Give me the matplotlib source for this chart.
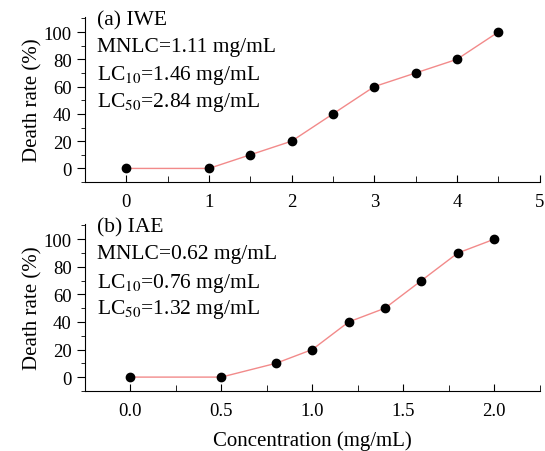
import matplotlib
matplotlib.use("Agg")
import matplotlib.pyplot as plt
from matplotlib.ticker import MultipleLocator

plt.rcParams['font.family'] = ['Liberation Serif', 'DejaVu Serif']
plt.rcParams['mathtext.fontset'] = 'stix'

# (a) IWE
iwe_conc = [0, 1, 1.5, 2, 2.5, 3, 3.5, 4, 4.5]
iwe_death = [0, 0, 10, 20, 40, 60, 70, 80, 100]
iwe_text = ["(a) IWE", "MNLC=1.11 mg/mL", "LC$_{10}$=1.46 mg/mL", "LC$_{50}$=2.84 mg/mL"]

# (b) IAE
iae_conc = [0, 0.5, 0.8, 1.0, 1.2, 1.4, 1.6, 1.8, 2.0]
iae_death = [0, 0, 10, 20, 40, 50, 70, 90, 100]
iae_text = ["(b) IAE", "MNLC=0.62 mg/mL", "LC$_{10}$=0.76 mg/mL", "LC$_{50}$=1.32 mg/mL"]

fig = plt.figure(figsize=(5.45, 4.52), dpi=100)
ax1 = fig.add_axes([0.156, 0.595, 0.834, 0.365])
ax2 = fig.add_axes([0.156, 0.133, 0.834, 0.369])


def style(ax, x, y, labels, xlim, xmajor, xminor, fmt):
    ax.plot(x, y, '-', color='#f28a8a', linewidth=1, zorder=1)
    ax.plot(x, y, 'o', color='black', markersize=6, zorder=2)
    ax.set_xlim(*xlim)
    ax.set_ylim(-10, 111)
    ax.spines['top'].set_visible(False)
    ax.spines['right'].set_visible(False)
    ax.xaxis.set_major_locator(MultipleLocator(xmajor))
    ax.xaxis.set_minor_locator(MultipleLocator(xminor))
    ax.yaxis.set_minor_locator(MultipleLocator(10))
    ax.set_yticks([0, 20, 40, 60, 80, 100])
    ax.xaxis.set_major_formatter(fmt)
    ax.tick_params(axis='x', which='both', direction='in', labelsize=13.5, pad=8)
    ax.tick_params(axis='x', which='major', length=5)
    ax.tick_params(axis='x', which='minor', length=4)
    ax.tick_params(axis='y', which='both', direction='out', labelsize=13.5)
    ax.tick_params(axis='y', which='major', length=6)
    ax.tick_params(axis='y', which='minor', length=3)
    ax.set_ylabel('Death rate (%)', fontsize=15, labelpad=1)
    for i, t in enumerate(labels):
        ax.text(0.026, 1.04 - i * 0.16, t, transform=ax.transAxes,
                fontsize=15.5, va='top', ha='left')


style(ax1, iwe_conc, iwe_death, iwe_text, (-0.5, 5), 1, 0.5, '{x:.0f}')
style(ax2, iae_conc, iae_death, iae_text, (-0.25, 2.25), 0.5, 0.25, '{x:.1f}')
ax2.set_xlabel('Concentration (mg/mL)', fontsize=15, labelpad=8)

fig.savefig('out.png', dpi=100)
